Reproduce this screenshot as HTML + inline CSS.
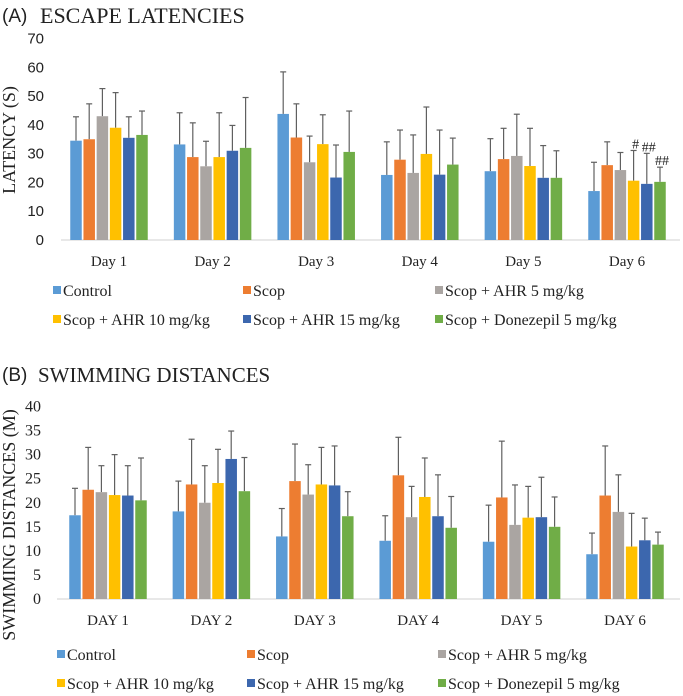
<!DOCTYPE html>
<html><head><meta charset="utf-8"><style>
body{margin:0;background:#fff;}
svg{display:block;}
.ser{font-family:"Liberation Serif",serif;fill:#222;}
.sans{font-family:"Liberation Sans",sans-serif;fill:#222;}
</style></head><body>
<svg id="fig" width="683" height="696" viewBox="0 0 683 696">
<text x="2" y="22" class="sans" font-size="19">(A)</text>
<text x="40" y="23" class="ser" font-size="22">ESCAPE LATENCIES</text>
<text x="2" y="381" class="sans" font-size="19">(B)</text>
<text x="38" y="382" class="ser" font-size="21">SWIMMING DISTANCES</text>
<g id="ga"></g><g id="gb"></g>
</svg>
<script>
const colors=["#5b9bd5","#ed7d31","#aaa5a2","#ffc000","#3c67ae","#70ad47"];
const seriesNames=["Control","Scop","Scop + AHR 5 mg/kg","Scop + AHR 10 mg/kg","Scop + AHR 15 mg/kg","Scop + Donezepil 5 mg/kg"];
const catsA=["Day 1","Day 2","Day 3","Day 4","Day 5","Day 6"];
const catsB=["DAY 1","DAY 2","DAY 3","DAY 4","DAY 5","DAY 6"];
const ticksA=[0,10,20,30,40,50,60,70];
const ticksB=[0,5,10,15,20,25,30,35,40];
const meanA=[[34.5,35,43,39,35.5,36.5],[33.2,28.8,25.6,28.8,31,32],[43.8,35.6,27,33.3,21.7,30.6],[22.6,27.9,23.3,29.9,22.7,26.2],[23.9,28.1,29.2,25.7,21.6,21.6],[17,26,24.3,20.6,19.5,20.2]];
const errA=[[42.8,47.3,52.6,51.2,42.8,44.8],[44.2,40.7,34.3,44.2,39.8,49.5],[58.4,47.3,36.1,43.5,33,44.8],[34.1,38.2,36.5,46.2,38.2,35.4],[35.2,38.8,43.7,38.8,32.8,31],[27,34.1,30.4,31.1,30.1,25.3]];
const marksA=[["","","","#","##","##"]];
const meanB=[[17.4,22.7,22.2,21.6,21.5,20.5],[18.2,23.8,20,24.1,29.1,22.4],[13,24.5,21.7,23.8,23.6,17.2],[12.1,25.7,17,21.2,17.2,14.8],[11.9,21.1,15.4,16.9,17,15],[9.3,21.5,18.1,10.9,12.2,11.3]];
const errB=[[23,31.5,27.7,30,27.7,29.3],[24.5,33.2,27.7,31.1,34.9,29.4],[18.8,32.2,27.9,31.5,31.8,22.3],[17.3,33.6,23.4,29.3,25.8,21.3],[19.5,32.8,23.7,23.4,25.3,21.2],[13.7,31.8,25.8,17.8,16.8,13.9]];
const NS="http://www.w3.org/2000/svg";
function mk(p,t,a,txt){const e=document.createElementNS(NS,t);for(const k in a)e.setAttribute(k,a[k]);if(txt!==undefined)e.textContent=txt;p.appendChild(e);return e;}
function chart(g,o){
 const y=v=>o.y0-(v/o.max)*(o.y0-o.yTop);
 const x0=o.x0,gw=o.gw,bw=11.5,pitch=13.2;
 mk(g,"line",{x1:o.axL,x2:680,y1:o.y0,y2:o.y0,stroke:"#d0d0d0","stroke-width":1});
 o.ticks.forEach(t=>{const e=mk(g,"text",{x:o.tx,y:y(t)+5,"text-anchor":"end","font-size":o.tfs,class:o.tcls},String(t));
  
  });
 const ttl=mk(g,"text",{x:0,y:0,"text-anchor":"middle","font-size":o.titleFs,class:"ser",transform:`translate(${o.titleX},${o.titleY}) rotate(-90)`},o.title);
 
 
 o.cats.forEach((c,i)=>{
  const cx=x0+i*gw;
  const lb=mk(g,"text",{x:cx,y:o.y0+26,"text-anchor":"middle","font-size":15,class:"ser"},c);
  
  
  o.mean[i].forEach((v,s)=>{
   const bx=cx-3*pitch+s*pitch+(pitch-bw)/2;
   const ey=y(o.err[i][s]),bc=bx+bw/2;
   const l=mk(g,"line",{x1:bc,x2:bc,y1:ey,y2:y(v),stroke:"#606060","stroke-width":1.2});
   
   
   const cp=mk(g,"line",{x1:bc-3,x2:bc+3,y1:ey,y2:ey,stroke:"#606060","stroke-width":1.2});
   
   
   const r=mk(g,"rect",{x:bx,y:y(v),width:bw,height:o.y0-y(v),fill:colors[s]});
   
   
   if(o.marks&&i===5&&marksA[0][s]){const m=mk(g,"text",{x:bc+2,y:ey-2,"text-anchor":"middle","font-size":14,class:"ser"},marksA[0][s]);
    
    }
  });
 });
 seriesNames.forEach((n,s)=>{
  const lx=o.legX[s%3],ly=o.legY[Math.floor(s/3)];
  const r=mk(g,"rect",{x:lx,y:ly-5,width:8,height:8,fill:colors[s]});
  
  
  const t=mk(g,"text",{x:lx+10,y:ly+5,"font-size":16,class:"ser"},n);
  
  
 });
}
chart(document.getElementById("ga"),{y0:240,yTop:38.5,max:70,x0:109,gw:103.6,axL:61,ticks:ticksA,tx:44,tfs:15,tcls:"sans",title:"LATENCY (S)",titleX:15,titleY:140,titleFs:18,cats:catsA,mean:meanA,err:errA,marks:true,legX:[53,243,435],legY:[291,320]});
chart(document.getElementById("gb"),{y0:599,yTop:406.5,max:40,x0:108,gw:103.4,axL:57,ticks:ticksB,tx:41,tfs:16,tcls:"ser",title:"SWIMMING DISTANCES (M)",titleX:15,titleY:525,titleFs:18,cats:catsB,mean:meanB,err:errB,marks:false,legX:[57,247,438],legY:[655,684]});
</script>
</body></html>
